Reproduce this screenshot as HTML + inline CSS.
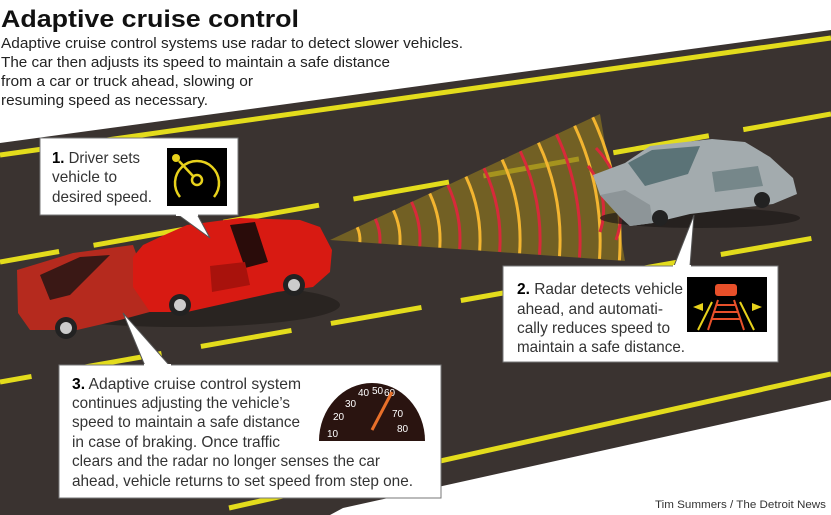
<!DOCTYPE html>
<html><head><meta charset="utf-8"><style>
html,body{margin:0;padding:0;background:#fff;}
svg{display:block;}
text{font-family:"Liberation Sans",sans-serif;}
</style></head><body>
<svg width="831" height="515" viewBox="0 0 831 515" xmlns="http://www.w3.org/2000/svg">
<rect width="831" height="515" fill="#fff"/>
<polygon points="0,143 831,30 831,400 343,508 330,515 0,515" fill="#3a3330"/>
<line x1="0" y1="155" x2="831" y2="38" stroke="#e3dc1c" stroke-width="5"/>
<line x1="831" y1="374" x2="229" y2="508" stroke="#e3dc1c" stroke-width="5"/>
<line x1="0" y1="262" x2="831" y2="114" stroke="#e3dc1c" stroke-width="5" stroke-dasharray="97 35" stroke-dashoffset="-95"/>
<line x1="0" y1="382" x2="831" y2="235" stroke="#e3dc1c" stroke-width="5" stroke-dasharray="92 40" stroke-dashoffset="60"/>

<!-- radar cone -->
<polygon points="330,240 600,114 625,261" fill="#8a7420" opacity="0.7"/>
<g fill="none" stroke-width="3">
<path d="M357.2,227.3 A30,30 0 0 1 359.9,242.1" stroke="#f3b530"/>
<path d="M375.3,218.9 A50,50 0 0 1 379.9,243.5" stroke="#d8293a"/>
<path d="M393.4,210.4 A70,70 0 0 1 399.9,244.9" stroke="#f3b530"/>
<path d="M411.5,201.9 A90,90 0 0 1 419.8,246.3" stroke="#d8293a"/>
<path d="M429.7,193.5 A110,110 0 0 1 439.8,247.7" stroke="#f3b530"/>
<path d="M447.8,185.0 A130,130 0 0 1 459.7,249.1" stroke="#d8293a"/>
<path d="M465.9,176.6 A150,150 0 0 1 479.7,250.5" stroke="#f3b530"/>
<path d="M484.0,168.1 A170,170 0 0 1 499.7,251.9" stroke="#d8293a"/>
<path d="M502.1,159.6 A190,190 0 0 1 519.6,253.3" stroke="#f3b530"/>
<path d="M520.3,151.2 A210,210 0 0 1 539.6,254.7" stroke="#d8293a"/>
<path d="M538.4,142.7 A230,230 0 0 1 559.5,256.1" stroke="#f3b530"/>
<path d="M556.5,134.3 A250,250 0 0 1 579.5,257.5" stroke="#d8293a"/>
<path d="M574.6,125.8 A270,270 0 0 1 599.5,258.9" stroke="#f3b530"/>
<path d="M592.7,117.3 A290,290 0 0 1 619.4,260.3" stroke="#f3b530"/>
<path d="M596,148 A90,90 0 0 1 616,240" stroke="#d8293a"/>
<path d="M588,166 A70,70 0 0 1 600,232" stroke="#d8293a"/>
</g>

<!-- gray car -->
<ellipse cx="700" cy="218" rx="100" ry="10" fill="#1e1a18" opacity="0.7"/>
<polygon points="593,175 625,163 650,146 712,139 745,142 770,157 793,178 797,194 773,204 690,214 653,223 630,226 620,217 600,195" fill="#a3abae"/>
<polygon points="628,163 652,150 700,146 688,174 645,186" fill="#5b7377"/>
<polygon points="712,172 758,166 763,186 715,192" fill="#76878a"/>
<polygon points="600,195 620,217 630,226 653,223 650,205 625,190" fill="#8d9598"/>
<circle cx="660" cy="218" r="8" fill="#222"/><circle cx="762" cy="200" r="8" fill="#222"/>

<!-- red cars -->
<ellipse cx="180" cy="305" rx="160" ry="22" fill="#1e1a18" opacity="0.6"/>
<polygon points="17,270 27,267 73,253 133,245 147,283 157,310 120,320 77,330 30,330 18,313" fill="#b52a1e"/>
<polygon points="40,275 80,257 110,255 70,295 50,300" fill="#3a1815"/>
<polygon points="143,245 160,237 187,225 240,218 300,220 320,227 332,250 330,272 313,287 277,292 187,312 150,312 133,287 133,257" fill="#d81a12"/>
<polygon points="230,225 255,222 268,262 245,268" fill="#2a0c0a"/>
<polygon points="210,266 245,262 250,285 212,292" fill="#a8120c"/>
<circle cx="66" cy="328" r="11" fill="#222"/><circle cx="66" cy="328" r="6" fill="#ccc"/>
<circle cx="180" cy="305" r="11" fill="#222"/><circle cx="180" cy="305" r="6" fill="#ccc"/>
<circle cx="294" cy="285" r="11" fill="#222"/><circle cx="294" cy="285" r="6" fill="#ccc"/>

<text x="1" y="27" font-size="24" font-weight="bold" textLength="298" lengthAdjust="spacingAndGlyphs" fill="#111">Adaptive cruise control</text>
<g font-size="15" fill="#222">
<text x="1" y="48" textLength="462" lengthAdjust="spacingAndGlyphs">Adaptive cruise control systems use radar to detect slower vehicles.</text>
<text x="1" y="67" textLength="389" lengthAdjust="spacingAndGlyphs">The car then adjusts its speed to maintain a safe distance</text>
<text x="1" y="86" textLength="252" lengthAdjust="spacingAndGlyphs">from a car or truck ahead, slowing or</text>
<text x="1" y="105" textLength="207" lengthAdjust="spacingAndGlyphs">resuming speed as necessary.</text>
</g>

<polygon points="177,214 197,214 210,238" fill="#fff" stroke="#555" stroke-width="1"/>
<rect x="40" y="138" width="198" height="77" fill="#fff" stroke="#777"/>
<rect x="176" y="214" width="22" height="2" fill="#fff"/>
<g font-size="16" fill="#333">
<text x="52" y="163" textLength="88" lengthAdjust="spacingAndGlyphs"><tspan font-weight="bold" fill="#000">1.</tspan> Driver sets</text>
<text x="52" y="182" textLength="65" lengthAdjust="spacingAndGlyphs">vehicle to</text>
<text x="52" y="202" textLength="100" lengthAdjust="spacingAndGlyphs">desired speed.</text>
</g>
<rect x="167" y="148" width="60" height="58" fill="#000"/>
<g fill="none" stroke="#e8d21c" stroke-width="2.5">
<path d="M180,197 A22,22 0 1 1 214,197"/>
<circle cx="197" cy="180" r="5"/>
<line x1="193" y1="176" x2="179" y2="161"/>
</g>
<circle cx="176" cy="158" r="4" fill="#e8d21c"/>

<polygon points="674,266 690,266 694,215" fill="#fff" stroke="#555"/>
<rect x="503" y="266" width="275" height="96" fill="#fff" stroke="#777"/>
<rect x="673" y="265" width="18" height="2" fill="#fff"/>
<g font-size="16" fill="#333">
<text x="517" y="294" textLength="166" lengthAdjust="spacingAndGlyphs"><tspan font-weight="bold" fill="#000">2.</tspan> Radar detects vehicle</text>
<text x="517" y="314" textLength="146" lengthAdjust="spacingAndGlyphs">ahead, and automati-</text>
<text x="517" y="333" textLength="153" lengthAdjust="spacingAndGlyphs">cally reduces speed to</text>
<text x="517" y="352" textLength="168" lengthAdjust="spacingAndGlyphs">maintain a safe distance.</text>
</g>
<rect x="687" y="277" width="80" height="55" fill="#000"/>
<rect x="715" y="284" width="22" height="12" rx="3" fill="#e8502a"/>
<g stroke="#e8502a" stroke-width="2"><line x1="718" y1="300" x2="708" y2="330"/><line x1="734" y1="300" x2="744" y2="330"/>
<line x1="716" y1="305" x2="736" y2="305"/><line x1="714" y1="312" x2="738" y2="312"/><line x1="712" y1="319" x2="740" y2="319"/></g>
<g stroke="#e8d21c" stroke-width="2"><line x1="712" y1="302" x2="698" y2="330"/><line x1="740" y1="302" x2="754" y2="330"/></g>
<polygon points="693,307 703,303 703,311" fill="#e8d21c"/><polygon points="762,307 752,303 752,311" fill="#e8d21c"/>

<polygon points="145,366 170,366 123,313" fill="#fff" stroke="#555"/>
<rect x="59" y="365" width="382" height="133" fill="#fff" stroke="#777"/>
<rect x="144" y="364" width="27" height="2" fill="#fff"/>
<g font-size="16" fill="#333">
<text x="72" y="389" textLength="229" lengthAdjust="spacingAndGlyphs"><tspan font-weight="bold" fill="#000">3.</tspan> Adaptive cruise control system</text>
<text x="72" y="408" textLength="218" lengthAdjust="spacingAndGlyphs">continues adjusting the vehicle’s</text>
<text x="72" y="427" textLength="228" lengthAdjust="spacingAndGlyphs">speed to maintain a safe distance</text>
<text x="72" y="447" textLength="208" lengthAdjust="spacingAndGlyphs">in case of braking. Once traffic</text>
<text x="72" y="466" textLength="308" lengthAdjust="spacingAndGlyphs">clears and the radar no longer senses the car</text>
<text x="72" y="486" textLength="341" lengthAdjust="spacingAndGlyphs">ahead, vehicle returns to set speed from step one.</text>
</g>
<path d="M319,441 A53,58 0 0 1 425,441 Z" fill="#2a1410"/>
<g fill="#fff" font-size="10">
<text x="327" y="437">10</text><text x="333" y="420">20</text><text x="345" y="407">30</text><text x="358" y="396">40</text><text x="372" y="394">50</text><text x="384" y="396">60</text><text x="392" y="417">70</text><text x="397" y="432">80</text>
</g>
<line x1="372" y1="430" x2="392" y2="392" stroke="#e8702a" stroke-width="3"/>

<text x="826" y="508" font-size="11" fill="#333" text-anchor="end" textLength="171" lengthAdjust="spacingAndGlyphs">Tim Summers / The Detroit News</text>
</svg>
</body></html>
